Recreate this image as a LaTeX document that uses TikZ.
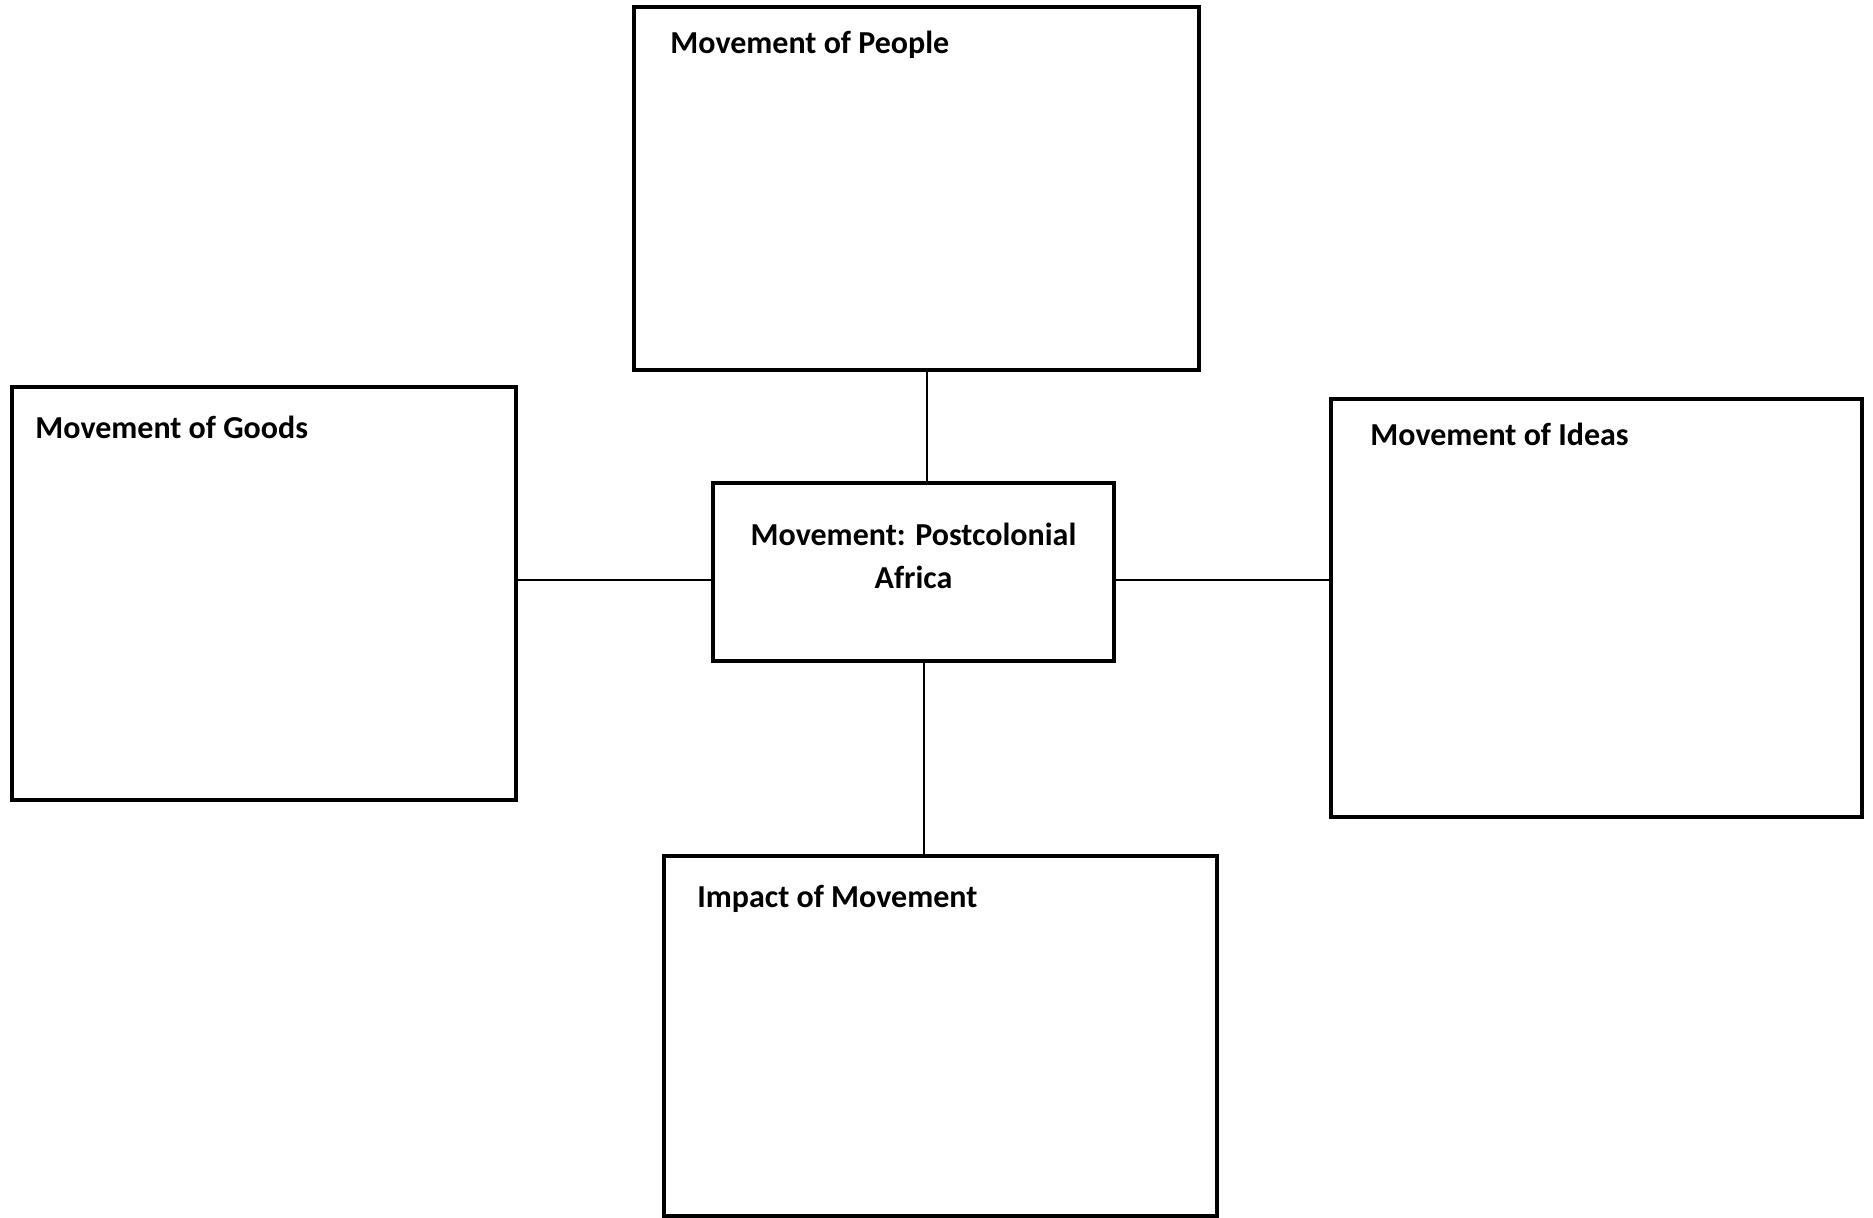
\documentclass[tikz,border=0pt]{standalone}
\usepackage{fontspec}
\setmainfont{Carlito}
\usetikzlibrary{positioning}
\tikzset{x=0.5pt, y=-0.5pt, % one unit is one pixel of the sheet, y runs down
panel/.style={ % Sets the properties for each box
draw,
line width=2pt,
anchor=north west,
inner sep=0pt, outer sep=0pt},
heading/.style={ % Title written at the top left of a box
inner sep=0pt,
anchor=base west,
font=\bfseries\fontsize{16}{21.5}\selectfont},
link/.style={ % Plain connector, no arrow head
draw,
line width=1pt}}

\begin{document}
\begin{tikzpicture}
    \useasboundingbox (0,0) rectangle (1873,1217);
    \node[panel, minimum width=282.5pt, minimum height=181.5pt] (people) at (634,7) {};
    \node[panel, minimum width=252pt, minimum height=206.5pt] (goods) at (12,387) {};
    \node[panel, minimum width=265.5pt, minimum height=209pt] (ideas) at (1331,399) {};
    \node[panel, minimum width=200.5pt, minimum height=89pt] (hub) at (713,483) {};
    \node[panel, minimum width=276.5pt, minimum height=180pt] (impact) at (664,856) {};
    % titles
    \node[heading] (peopletitle) at ([shift={(36,46)}]people.north west) {Movement of People};
    \node[heading] (goodstitle) at ([shift={(23,51)}]goods.north west) {Movement of Goods};
    \node[heading] (ideastitle) at ([shift={(39,46)}]ideas.north west) {Movement of Ideas};
    \node[heading] (impacttitle) at ([shift={(33,51)}]impact.north west) {Impact of Movement};
    \node[heading, anchor=base, align=center] (hubtitle) at ([shift={(0,105)}]hub.north) {Movement: Postcolonial\\Africa};
    % connectors
    \draw[link] ([xshift=6.75pt]hub.north) -- ([xshift=6.75pt]hub.north |- people.south);
    \draw[link] ([xshift=5.25pt]hub.south) -- ([xshift=5.25pt]hub.south |- impact.north);
    \draw[link] ([yshift=-3.75pt]hub.west) -- ([yshift=-3.75pt]hub.west -| goods.east);
    \draw[link] ([yshift=-3.75pt]hub.east) -- ([yshift=-3.75pt]hub.east -| ideas.west);
  \end{tikzpicture}
\end{document}
